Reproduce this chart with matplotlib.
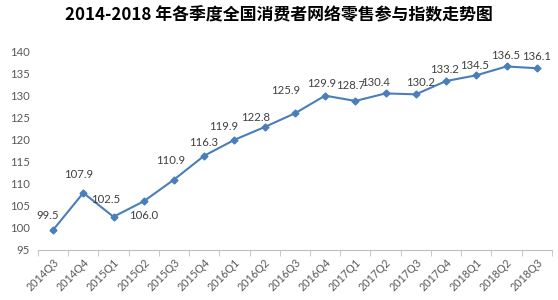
import matplotlib
matplotlib.use("Agg")
import matplotlib.pyplot as plt
import numpy as np

plt.rcParams['font.family'] = ['Noto Sans CJK SC', 'DejaVu Sans']

categories = ["2014Q3", "2014Q4", "2015Q1", "2015Q2", "2015Q3", "2015Q4",
              "2016Q1", "2016Q2", "2016Q3", "2016Q4", "2017Q1", "2017Q2",
              "2017Q3", "2017Q4", "2018Q1", "2018Q2", "2018Q3"]
values = [99.5, 107.9, 102.5, 106.0, 110.9, 116.3, 119.9, 122.8, 125.9,
          129.9, 128.7, 130.4, 130.2, 133.2, 134.5, 136.5, 136.1]
yticks = [95, 100, 105, 110, 115, 120, 125, 130, 135, 140]

# label offsets in pixels (dx, dy)
offsets = [(-5, 15), (-5, 18), (-8, 17), (0, -14), (-3, 19), (-1, 13),
           (-11, 13), (-9, 10), (-9, 23), (-3, 12), (-5, 15), (-10, 11),
           (5, 12), (-2, 12), (-2, 10), (-1, 11), (0, 12)]

fig = plt.figure(figsize=(5.58, 3.0), dpi=100)
ax = fig.add_axes([0.068, 0.167, 0.921, 0.663])

x = np.arange(len(categories))
color = '#4a7ebb'
ax.plot(x, values, color=color, lw=1.5, marker='D', ms=3.5, mec=color, mfc=color)

for xi, v, (dx, dy) in zip(x, values, offsets):
    ax.annotate(f"{v:.1f}", (xi, v), xytext=(dx, dy), textcoords='offset pixels',
                ha='center', va='center', fontsize=8.2, color='#404040',
                family=['Lato'])

ax.set_xlim(-0.5, len(categories) - 0.5)
ax.set_ylim(95, 140)
ax.set_yticks(yticks)
ax.set_xticks(x)
ax.set_xticklabels(categories, rotation=45, ha='right', rotation_mode='anchor',
                   fontsize=7.8, color='#595959', family=['Lato'])
ax.set_xticks(np.arange(-0.5, len(categories), 1), minor=True)
ax.tick_params(axis='x', which='major', length=0, pad=5)
ax.tick_params(axis='x', which='minor', length=4, color='#bfbfbf', direction='out')
ax.tick_params(axis='y', length=0, labelsize=8.2, labelcolor='#595959', pad=6)
for lbl in ax.get_yticklabels():
    lbl.set_family(['Lato'])

for s in ['top', 'right', 'left']:
    ax.spines[s].set_visible(False)
ax.spines['bottom'].set_color('#bfbfbf')

fig.text(0.5, 0.95, "2014-2018 年各季度全国消费者网络零售参与指数走势图",
         ha='center', va='center', fontsize=12.2, fontweight='bold', color='black')

fig.savefig("out.png", dpi=100, facecolor='white')
